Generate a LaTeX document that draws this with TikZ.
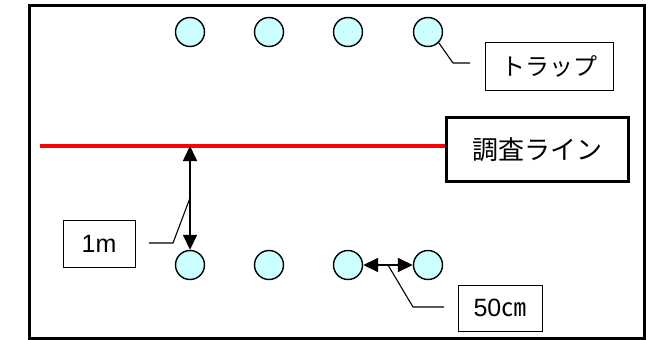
\documentclass[tikz,border=0pt]{standalone}
\usepackage{fontspec}
\setmainfont{Noto Sans CJK JP}
\newfontfamily\latinfont{Liberation Sans}
\usetikzlibrary{arrows.meta}
\definecolor{trapfill}{HTML}{CCFFFF}
\definecolor{linered}{HTML}{FF0000}
\tikzset{
  trap/.style={circle, draw=black, line width=1.4pt, fill=trapfill, minimum size=29pt, inner sep=0pt},
  label box/.style={draw=black, line width=1pt, inner sep=0pt},
  leader/.style={draw=black, line width=1.1pt},
  measure/.style={draw=black, line width=1.6pt, {Triangle[length=15pt,width=14pt]}-{Triangle[length=15pt,width=14pt]}}
}
\begin{document}
\begin{tikzpicture}[x=1pt, y=-1pt]
  \useasboundingbox (0,0) rectangle (649,340);
  % outer frame
  \draw[line width=3pt] (29.5,5.5) rectangle (644,338);

  % traps, upper row
  \node[trap] (t1) at (190,32) {};
  \node[trap] (t2) at (269,32) {};
  \node[trap] (t3) at (348,32) {};
  \node[trap] (t4) at (428,32) {};
  % traps, lower row
  \node[trap] (b1) at (190,265) {};
  \node[trap] (b2) at (269,265) {};
  \node[trap] (b3) at (348,265) {};
  \node[trap] (b4) at (428,265) {};

  % survey line and its label
  \node[draw=black, line width=3pt, minimum width=182pt, minimum height=64pt, inner sep=0pt,
        font=\fontsize{26}{26}\selectfont] (survey) at (537.5,149.5) {調査ライン};
  \coordinate (lineStart) at (40,146);
  \draw[linered, line width=4pt] (lineStart) -- (lineStart -| survey.west);

  % trap label
  \node[label box, minimum width=128pt, minimum height=48pt,
        font=\fontsize{24}{24}\selectfont] (traplbl) at (549,66) {トラップ};
  \draw[leader] (t4.-45) -- (453,63) -- (470,63);

  % 1 m spacing
  \coordinate (lineFoot) at (190,146);
  \draw[measure] (lineFoot) -- (b1.north);
  \node[label box, minimum width=72pt, minimum height=47pt,
        font=\fontsize{25}{25}\latinfont] (onem) at (99,243.5) {1m};
  \draw[leader] (149,243) -- (173,243) -- (190,198);

  % 50 cm spacing
  \draw[measure] (b3.east) -- (b4.west);
  \node[label box, minimum width=84pt, minimum height=46pt,
        font=\fontsize{25}{25}\selectfont] (fifty) at (500,308) {{\latinfont 50}㎝};
  \draw[leader] (388,265) -- (413,307) -- (444,307);
\end{tikzpicture}
\end{document}
